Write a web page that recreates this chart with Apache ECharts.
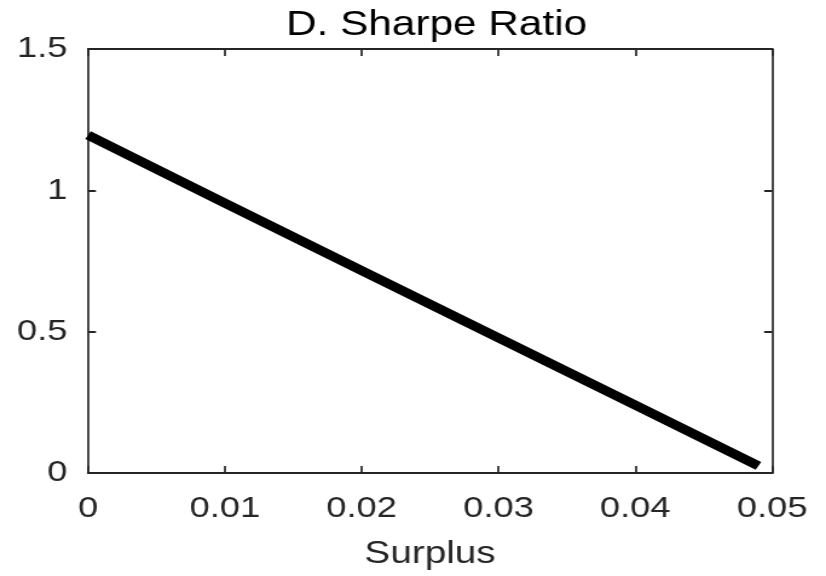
<!DOCTYPE html>
<html>
<head>
<meta charset="utf-8">
<script src="https://cdn.jsdelivr.net/npm/echarts@6/dist/echarts.min.js"></script>
<style>
  html, body { margin: 0; padding: 0; background: #fff; overflow: hidden; }
  /* the reference figure is stretched horizontally, so we draw narrower and stretch it back */
  #chart { width: 683px; height: 576px; transform: scaleX(1.2094); transform-origin: 0 0; }
</style>
</head>
<body>
<div id="chart"></div>
<script>
// values
const surplus = [0, 0.01, 0.02, 0.03, 0.04, 0.049];
const sharpe = [1.195, 0.955, 0.716, 0.478, 0.24, 0.025];
const xTicks = [0, 0.01, 0.02, 0.03, 0.04, 0.05];
const yTicks = [0, 0.5, 1, 1.5];

const font = 'Liberation Sans, Arial, Helvetica, sans-serif';
const axisColor = '#262626';

const chart = echarts.init(document.getElementById('chart'), null, { renderer: 'canvas' });

// x axes are horizontal lines with vertical ticks, y axes the other way round
const xBox = {
  type: 'value',
  min: xTicks[0],
  max: xTicks[xTicks.length - 1],
  interval: 0.01,
  axisLine: { show: true, onZero: false, lineStyle: { color: axisColor, width: 2 } },
  axisTick: { show: true, inside: true, length: 7, lineStyle: { color: axisColor, width: 1.7 } },
  splitLine: { show: false }
};
const yBox = {
  type: 'value',
  min: yTicks[0],
  max: yTicks[yTicks.length - 1],
  interval: 0.5,
  axisLine: { show: true, onZero: false, lineStyle: { color: axisColor, width: 1.7 } },
  axisTick: { show: true, inside: true, length: 6.5, lineStyle: { color: axisColor, width: 2 } },
  splitLine: { show: false }
};

const option = {
  animation: false,
  backgroundColor: '#fff',
  title: {
    text: 'D. Sharpe Ratio',
    left: 356,
    textAlign: 'center',
    top: 3,
    textStyle: { fontFamily: font, fontSize: 35, fontWeight: 'normal', color: '#000' }
  },
  grid: { left: 72.8, right: 44.6, top: 49, bottom: 103 },
  xAxis: [
    {
      ...xBox,
      name: 'Surplus',
      nameLocation: 'middle',
      nameGap: 65,
      nameTextStyle: { fontFamily: font, fontSize: 32, color: '#262626', verticalAlign: 'top' },
      axisLabel: {
        margin: 21,
        fontFamily: font, fontSize: 30, color: '#262626',
        formatter: v => String(+v.toFixed(2))
      }
    },
    { ...xBox, position: 'top', axisLabel: { show: false } }
  ],
  yAxis: [
    {
      ...yBox,
      axisLabel: {
        margin: 17,
        fontFamily: font, fontSize: 30, color: '#262626',
        formatter: v => String(v)
      }
    },
    { ...yBox, position: 'right', axisLabel: { show: false } }
  ],
  series: [
    {
      type: 'line',
      data: surplus.map((x, i) => [x, sharpe[i]]),
      showSymbol: false,
      symbol: 'none',
      lineStyle: { color: '#000', width: 9 },
      silent: true
    }
  ]
};

chart.setOption(option);
</script>
</body>
</html>
